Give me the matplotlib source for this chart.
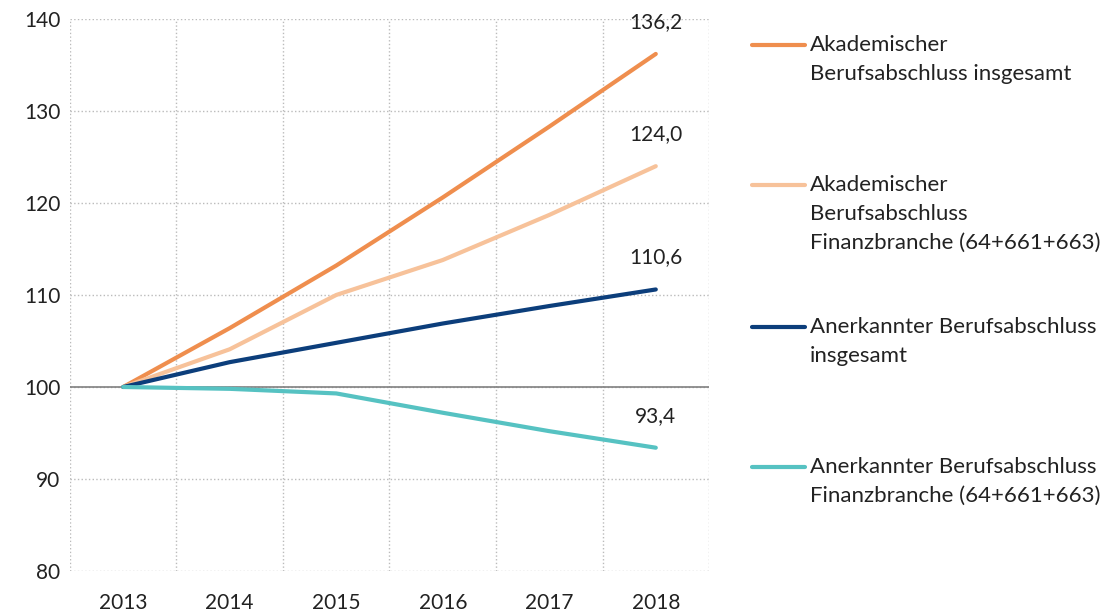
import matplotlib.pyplot as plt
from matplotlib.lines import Line2D

plt.rcParams['font.family'] = ['Lato', 'DejaVu Sans']

# Index 2013 = 100
years = ['2013', '2014', '2015', '2016', '2017', '2018']
akad_gesamt = [100, 106.4, 113.2, 120.6, 128.3, 136.2]
akad_finanz = [100, 104.1, 110.0, 113.8, 118.7, 124.0]
anerk_gesamt = [100, 102.7, 104.8, 106.9, 108.8, 110.6]
anerk_finanz = [100, 99.8, 99.3, 97.2, 95.2, 93.4]
end_labels = ['136,2', '124,0', '110,6', '93,4']

labels = ['Akademischer\nBerufsabschluss insgesamt',
          'Akademischer\nBerufsabschluss\nFinanzbranche (64+661+663)',
          'Anerkannter Berufsabschluss\ninsgesamt',
          'Anerkannter Berufsabschluss\nFinanzbranche (64+661+663)']
colors = ['#EF8E4E', '#F7C29A', '#0C3E7B', '#56C2C2']
series = [akad_gesamt, akad_finanz, anerk_gesamt, anerk_finanz]

fig = plt.figure(figsize=(11.07, 6.12), dpi=100)
ax = fig.add_axes([0.0632, 0.067, 0.5773, 0.902])

x = list(range(len(years)))
for vals, c, lab in zip(series, colors, end_labels):
    ax.plot(x, vals, color=c, lw=3, solid_capstyle='round', zorder=3)
    ax.annotate(lab, (x[-1], vals[-1]), xytext=(0, 23), textcoords='offset points',
                ha='center', va='center', fontsize=15, color='#222222')

ax.set_xlim(-0.5, 5.5)
ax.set_ylim(80, 140)
ax.set_xticks(x)
ax.set_xticklabels(years)
ax.set_yticks(range(80, 141, 10))
ax.set_xticks([i - 0.5 for i in range(7)], minor=True)
ax.tick_params(axis='x', which='both', length=0, pad=16, labelsize=15, colors='#222222')
ax.tick_params(axis='y', length=0, pad=7, labelsize=15, colors='#222222')
ax.grid(True, axis='y', which='major', color='#BBBBBB', ls=':', lw=1)
ax.grid(True, axis='x', which='minor', color='#BBBBBB', ls=':', lw=1)
ax.axhline(100, color='#808080', lw=1.2, zorder=2)
for s in ax.spines.values():
    s.set_visible(False)

# legend drawn by hand so the line sits at the first text row
leg_y = [45, 185, 327, 467]
W, H = 1107, 612
for yy, c, lab in zip(leg_y, colors, labels):
    fig.add_artist(Line2D([752 / W, 805 / W], [1 - yy / H, 1 - yy / H],
                          color=c, lw=3, solid_capstyle='round'))
    fig.text(810 / W, 1 - (yy - 10) / H, lab, fontsize=16, va='top', ha='left',
             color='#222222', linespacing=1.55)

fig.savefig('out.png', dpi=100)
